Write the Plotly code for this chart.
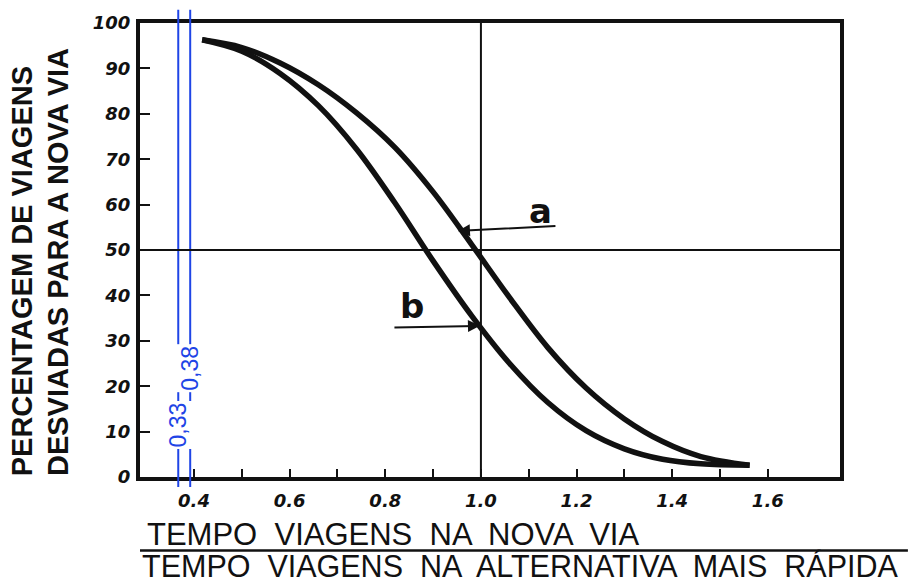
"""Percentagem de viagens desviadas para a nova via (curvas a e b)."""

import plotly.graph_objects as go

# curvas
CURVE_A_X = [0.417, 0.50, 0.58, 0.66, 0.74, 0.82, 0.90, 0.98, 1.06, 1.14, 1.22, 1.30, 1.38, 1.46, 1.562]
CURVE_A_Y = [96.3, 94.6, 91.2, 86.4, 80.2, 72.6, 62.8, 51.3, 39.5, 28.5, 19.6, 12.8, 7.8, 4.5, 2.6]
CURVE_B_X = [0.417, 0.50, 0.58, 0.66, 0.74, 0.82, 0.90, 0.98, 1.06, 1.14, 1.22, 1.30, 1.38, 1.46, 1.562]
CURVE_B_Y = [96.3, 93.8, 88.9, 81.8, 72.2, 60.4, 47.6, 35.6, 25.0, 16.4, 10.2, 6.2, 3.9, 2.9, 2.6]

X_TICKS = [0.4, 0.5, 0.6, 0.7, 0.8, 0.9, 1.0, 1.1, 1.2, 1.3, 1.4, 1.5, 1.6]
X_LABELS = ["0.4", "", "0.6", "", "0.8", "", "1.0", "", "1.2", "", "1.4", "", "1.6"]
Y_TICKS = [0, 10, 20, 30, 40, 50, 60, 70, 80, 90, 100]
Y_LABELS = ["0", "10", "20", "30", "40", "50", "60", "70", "80", "90", "100"]

REF_X = 1.0
REF_Y = 50

# marcações a azul
BLUE_X = [0.367, 0.392]
BLUE_LABELS = ["0,33", "0,38"]
BLUE_LABEL_Y = [11.4, 23.9]

# setas a / b: (ponta x, ponta y, cauda x, cauda y, texto x, texto y)
ARROW_A = (0.952, 54.2, 1.159, 55.3, 1.124, 58.6)
ARROW_B = (0.998, 33.3, 0.816, 32.9, 0.856, 37.6)

X_RANGE = [0.287, 1.751]
Y_RANGE = [0, 100]

BLUE = "#1f45e6"
INK = "#111111"
TICK_FONT = dict(family="DejaVu Sans", size=18, color=INK, weight="bold", style="italic")

fig = go.Figure()

for xv, txt, ly in zip(BLUE_X, BLUE_LABELS, BLUE_LABEL_Y):
    fig.add_shape(type="line", xref="x", yref="paper", x0=xv, x1=xv, y0=-0.022, y1=1.029,
                  line=dict(color=BLUE, width=2))
    fig.add_annotation(x=xv, y=ly, xref="x", yref="y", text=txt, textangle=-90, showarrow=False,
                       bgcolor="white", borderpad=1,
                       font=dict(family="Liberation Sans", size=23, color=BLUE))

fig.add_hline(y=REF_Y, line=dict(color=INK, width=2))
fig.add_vline(x=REF_X, line=dict(color=INK, width=2))

fig.add_trace(go.Scatter(x=CURVE_A_X, y=CURVE_A_Y, mode="lines", line=dict(color=INK, width=5.5, shape="spline"),
                         showlegend=False, hoverinfo="skip"))
fig.add_trace(go.Scatter(x=CURVE_B_X, y=CURVE_B_Y, mode="lines", line=dict(color=INK, width=5.5, shape="spline"),
                         showlegend=False, hoverinfo="skip"))

for hx, hy, tx, ty, lx, ly, name in [ARROW_A + ("a",), ARROW_B + ("b",)]:
    fig.add_annotation(x=hx, y=hy, ax=tx, ay=ty, xref="x", yref="y", axref="x", ayref="y",
                       text="", showarrow=True, arrowhead=2, arrowsize=1.2, arrowwidth=2, arrowcolor=INK)
    fig.add_annotation(x=lx, y=ly, xref="x", yref="y", text=name, showarrow=False,
                       font=dict(family="DejaVu Sans", size=34, color=INK, weight="bold"))

# título do eixo y (duas linhas rodadas)
for px, txt in [(-0.168, "PERCENTAGEM DE VIAGENS"), (-0.117, "DESVIADAS PARA A NOVA VIA")]:
    fig.add_annotation(x=px, y=-0.002, xref="paper", yref="paper", text=txt, textangle=-90,
                       xanchor="center", yanchor="bottom", showarrow=False,
                       font=dict(family="Liberation Sans", size=29, color=INK, weight="bold"))

# título do eixo x em forma de fracção
fig.add_annotation(x=0.007, y=-0.126, xref="paper", yref="paper", text="TEMPO  VIAGENS  NA  NOVA  VIA",
                   xanchor="left", yanchor="middle", showarrow=False,
                   font=dict(family="Liberation Sans", size=31, color=INK))
fig.add_shape(type="line", xref="paper", yref="paper", x0=0, x1=1.097, y0=-0.162, y1=-0.162,
              line=dict(color=INK, width=2.5))
fig.add_annotation(x=0.0, y=-0.196, xref="paper", yref="paper",
                   text="TEMPO  VIAGENS  NA  ALTERNATIVA  MAIS  RÁPIDA",
                   xanchor="left", yanchor="middle", showarrow=False,
                   font=dict(family="Liberation Sans", size=30.5, color=INK))

fig.update_layout(
    width=912,
    height=586,
    margin=dict(l=140, r=72, t=21, b=109),
    paper_bgcolor="white",
    plot_bgcolor="white",
    showlegend=False,
    xaxis=dict(range=X_RANGE, tickvals=X_TICKS, ticktext=X_LABELS, ticks="inside", ticklen=8, tickwidth=2,
               tickcolor=INK, showgrid=False, zeroline=False, showline=True, linewidth=4, linecolor=INK,
               mirror=True, tickfont=TICK_FONT, ticklabelstandoff=4),
    yaxis=dict(range=Y_RANGE, tickvals=Y_TICKS, ticktext=Y_LABELS, ticks="inside", ticklen=10, tickwidth=2,
               tickcolor=INK, showgrid=False, zeroline=False, showline=True, linewidth=4, linecolor=INK,
               mirror=True, tickfont=TICK_FONT, ticklabelstandoff=2),
)

fig.write_html("out.html", config={"displayModeBar": False},
               post_script="document.body.style.margin='0';")
